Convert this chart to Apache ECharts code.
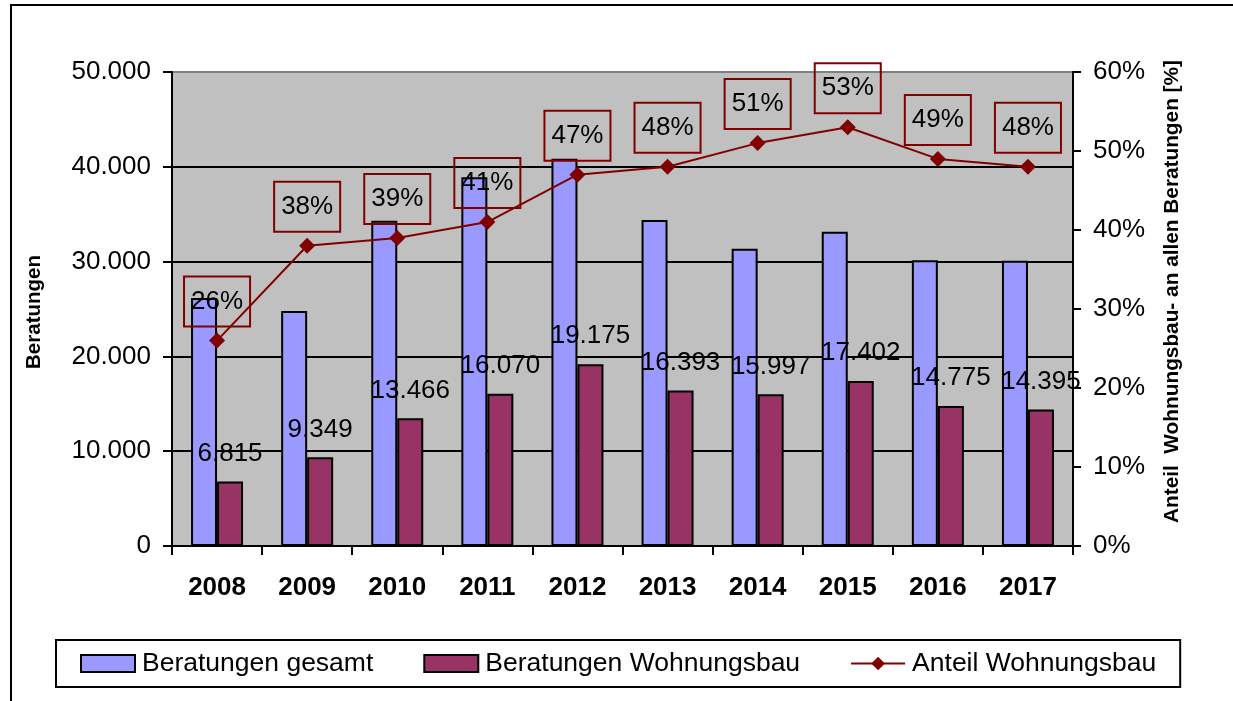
<!DOCTYPE html>
<html>
<head>
<meta charset="utf-8">
<script src="https://cdn.jsdelivr.net/npm/echarts@6/dist/echarts.min.js"></script>
<style>
  html, body { margin: 0; padding: 0; background: #fff; }
  #main { width: 1233px; height: 701px; position: absolute; left: 0; top: 0; }
  .frame { position: absolute; left: 10px; top: 4px; width: 1300px; height: 800px;
           border-top: 2px solid #000; border-left: 2px solid #000; }
</style>
</head>
<body>
<div class="frame"></div>
<div id="main"></div>
<script>
// Daten
const years = ['2008', '2009', '2010', '2011', '2012', '2013', '2014', '2015', '2016', '2017'];
const gesamt = [26150, 24800, 34300, 38900, 40850, 34400, 31350, 33150, 30150, 30100];
const wohnungsbau = [6815, 9349, 13466, 16070, 19175, 16393, 15997, 17402, 14775, 14395];
const anteil = [26, 38, 39, 41, 47, 48, 51, 53, 49, 48];

const font = 'Liberation Sans, Arial, sans-serif';

// 50000 -> "50.000"
function fmt(v) {
  return String(v).replace(/\B(?=(\d{3})+(?!\d))/g, '.');
}

const chart = echarts.init(document.getElementById('main'));

chart.setOption({
  animation: false,
  textStyle: { fontFamily: font, color: '#000' },
  grid: {
    left: 172, right: 160, top: 72, bottom: 155,
    show: true, backgroundColor: '#c0c0c0', borderWidth: 0
  },
  legend: {
    left: 56, top: 640,
    padding: [10, 24],
    borderColor: '#000', borderWidth: 2,
    itemWidth: 54, itemHeight: 17, itemGap: 50,
    textStyle: { fontSize: 26.5, fontFamily: font, color: '#000', padding: [0, 0, 0, 2] },
    data: [
      { name: 'Beratungen gesamt', icon: 'rect' },
      { name: 'Beratungen Wohnungsbau', icon: 'rect' },
      { name: 'Anteil Wohnungsbau' }
    ]
  },
  xAxis: {
    type: 'category',
    data: years,
    boundaryGap: true,
    axisLine: { lineStyle: { color: '#000', width: 2 } },
    axisTick: { show: true, length: 9, lineStyle: { color: '#000', width: 2 } },
    axisLabel: { fontSize: 26, fontWeight: 'bold', color: '#000', margin: 29, fontFamily: font }
  },
  yAxis: [
    {
      type: 'value',
      min: 0, max: 50000, interval: 10000,
      name: 'Beratungen',
      nameLocation: 'middle',
      nameGap: 127,
      nameTextStyle: { fontSize: 20.5, fontWeight: 'bold', color: '#000', fontFamily: font,
        padding: [0, 6, 0, 0] },
      axisLine: { show: true, lineStyle: { color: '#000', width: 2 } },
      axisTick: { show: true, length: 9, lineStyle: { color: '#000', width: 2 } },
      axisLabel: { fontSize: 26, color: '#000', margin: 21, fontFamily: font,
        formatter: v => fmt(v) },
      splitLine: { show: true, lineStyle: {
        color: ['#000', '#000', '#000', '#000', '#000', '#808080'], width: 2 } }
    },
    {
      type: 'value',
      min: 0, max: 60, interval: 10,
      position: 'right',
      name: 'Anteil  Wohnungsbau- an allen Beratungen [%]',
      nameLocation: 'middle',
      nameGap: 89,
      nameTextStyle: { fontSize: 20.8, fontWeight: 'bold', color: '#000', fontFamily: font,
        padding: [0, 0, 0, 35] },
      axisLine: { show: true, lineStyle: { color: '#000', width: 2 } },
      axisTick: { show: true, length: 8, lineStyle: { color: '#000', width: 2 } },
      axisLabel: { fontSize: 26, color: '#000', margin: 20, fontFamily: font,
        formatter: '{value}%' },
      splitLine: { show: false }
    }
  ],
  series: [
    {
      name: 'Beratungen gesamt',
      type: 'bar',
      data: gesamt,
      barWidth: 26,
      barGap: '0%',
      itemStyle: { color: '#9999ff', borderColor: '#000', borderWidth: 2 }
    },
    {
      name: 'Beratungen Wohnungsbau',
      type: 'bar',
      data: wohnungsbau,
      barWidth: 26,
      itemStyle: { color: '#993366', borderColor: '#000', borderWidth: 2 },
      label: {
        show: true, position: 'top', distance: 15,
        fontSize: 26, lineHeight: 26, color: '#000', fontFamily: font,
        formatter: p => fmt(p.value)
      }
    },
    {
      name: 'Anteil Wohnungsbau',
      type: 'line',
      yAxisIndex: 1,
      data: anteil,
      symbol: 'diamond',
      symbolSize: 16,
      lineStyle: { color: '#800000', width: 2 },
      itemStyle: { color: '#800000' },
      label: {
        show: true, position: 'top', distance: 6,
        fontSize: 26, lineHeight: 26, color: '#000', fontFamily: font,
        borderColor: '#800000', borderWidth: 2, padding: [12, 7],
        formatter: '{c}%'
      },
      z: 5
    }
  ]
});
</script>
</body>
</html>
